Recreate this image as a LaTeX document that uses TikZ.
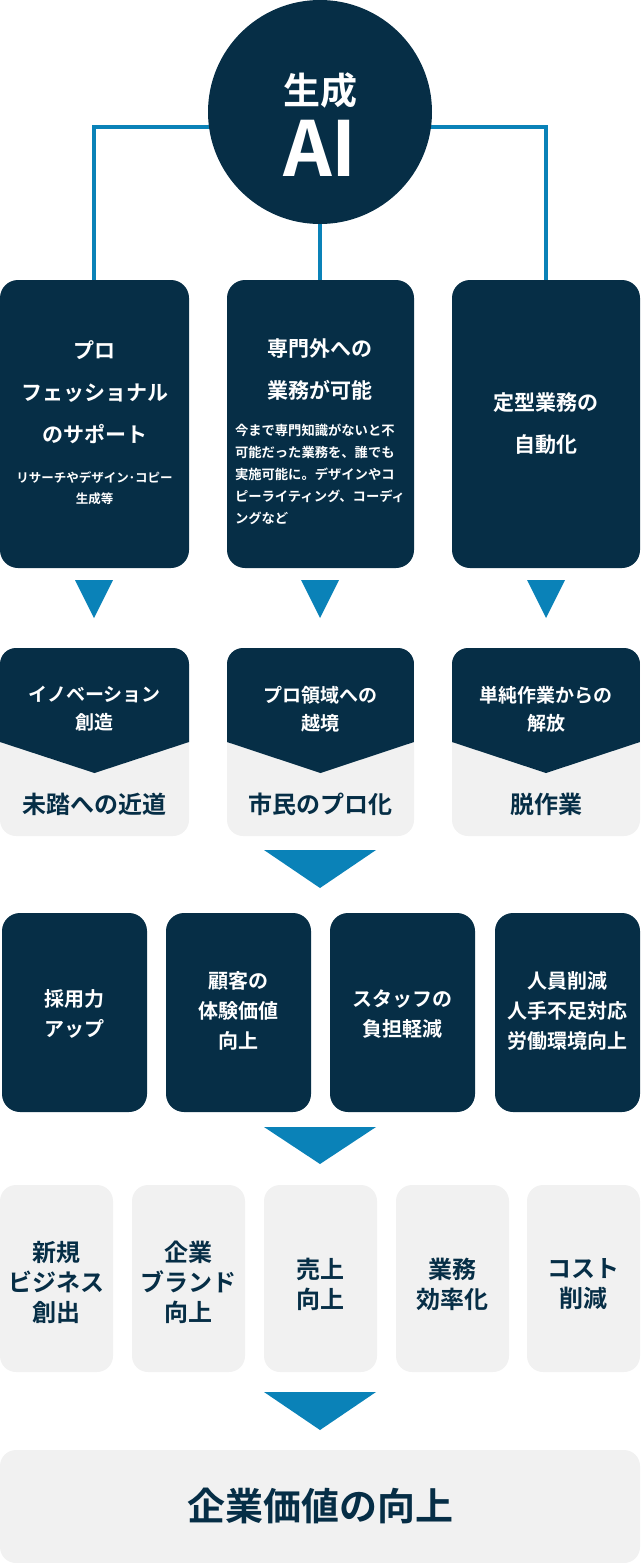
\documentclass[tikz,border=0pt]{standalone}
\usepackage{fontspec}
\setmainfont{Noto Sans CJK JP}[BoldFont={* Bold}]
\newfontfamily\jpb{Noto Sans CJK JP Bold}
\definecolor{navy}{HTML}{062E46}
\definecolor{accent}{HTML}{0A82B8}
\definecolor{lgray}{HTML}{F1F1F1}
\begin{document}
\begin{tikzpicture}[x=1pt,y=-1pt,
  nbox/.style={fill=navy,rounded corners=18pt,draw=none},
  gbox/.style={fill=lgray,rounded corners=16pt,draw=none},
  wt/.style={text=white,font=\jpb,align=center,inner sep=0},
  nt/.style={text=navy,font=\jpb,align=center,inner sep=0},
  tri/.style={fill=accent,draw=none},
  conn/.style={draw=accent,line width=4pt}]
\useasboundingbox (0,0) rectangle (641,1563);
% connectors
\coordinate (cl) at (94,280); \coordinate (cr) at (546,280); \coordinate (cm) at (320,280);
\draw[conn] (cl) -- (94,127) -- (546,127) -- (cr);
\draw[conn] (320,200) -- (cm);
\fill[navy] (320,112) circle (112);
\node[wt,font=\jpb\fontsize{37}{42}\selectfont] (g1) at (320,90) {生成};
\node[wt,font=\jpb\fontsize{76}{80}\selectfont] (g2) at (320,148) {AI};
% top boxes
\fill[nbox] (0,280) rectangle (189,568);
\fill[nbox] (227,280) rectangle (414,568);
\fill[nbox] (452,280) rectangle (640,568);
\node[wt,font=\jpb\fontsize{21}{42}\selectfont] (t1) at (94.5,392) {プロ\\フェッショナル\\のサポート};
\node[wt,font=\jpb\fontsize{12.5}{21}\selectfont] (s1) at (94.5,488) {リサーチやデザイン･コピー\\生成等};
\node[wt,font=\jpb\fontsize{21}{42}\selectfont] (t2) at (320,370) {専門外への\\業務が可能};
\node[wt,align=left,font=\jpb\fontsize{13.3}{22}\selectfont] (s2) at (320,474) {今まで専門知識がないと不\\可能だった業務を、誰でも\\実施可能に。デザインやコ\\ピーライティング、コーディ\\ングなど};
\node[wt,font=\jpb\fontsize{21}{42}\selectfont] (t3) at (546,424) {定型業務の\\自動化};
% triangles
\foreach \c in {94,320,546} \fill[tri] (\c-19,580) -- (\c+19,580) -- (\c,618) -- cycle;
% row 2
\foreach \a/\b in {0/189,227/414,452/640}{
  \fill[gbox] (\a,648) rectangle (\b,836);
  \begin{scope}
  \clip[rounded corners=16pt] (\a,648) rectangle (\b,836);
  \fill[navy] (\a,640) -- (\b,640) -- (\b,742) -- ({(\a+\b)/2},773) -- (\a,742) -- cycle;
  \end{scope}}
\node[wt,font=\jpb\fontsize{19}{28}\selectfont] (r1) at (94.5,709) {イノベーション\\創造};
\node[wt,font=\jpb\fontsize{19}{28}\selectfont] (r2) at (320.5,709) {プロ領域への\\越境};
\node[wt,font=\jpb\fontsize{19}{28}\selectfont] (r3) at (546,709) {単純作業からの\\解放};
\node[nt,font=\jpb\fontsize{24}{28}\selectfont] (b1) at (94.5,804) {未踏への近道};
\node[nt,font=\jpb\fontsize{24}{28}\selectfont] (b2) at (320.5,804) {市民のプロ化};
\node[nt,font=\jpb\fontsize{24}{28}\selectfont] (b3) at (546,804) {脱作業};
\fill[tri] (264,850) -- (376,850) -- (320,888) -- cycle;
% row 3
\fill[nbox] (2,913) rectangle (147,1112);
\fill[nbox] (166,913) rectangle (311,1112);
\fill[nbox] (330,913) rectangle (475,1112);
\fill[nbox] (495,913) rectangle (640,1112);
\node[wt,font=\jpb\fontsize{20}{30}\selectfont] (p1) at (74.5,1014) {採用力\\アップ};
\node[wt,font=\jpb\fontsize{20}{30}\selectfont] (p2) at (238.5,1011) {顧客の\\体験価値\\向上};
\node[wt,font=\jpb\fontsize{20}{30}\selectfont] (p3) at (402.5,1014) {スタッフの\\負担軽減};
\node[wt,font=\jpb\fontsize{20}{30}\selectfont] (p4) at (567.5,1011) {人員削減\\人手不足対応\\労働環境向上};
\fill[tri] (264,1127) -- (376,1127) -- (320,1164) -- cycle;
% row 4
\foreach \a in {0,132,264,396,527} \fill[gbox] (\a,1185) rectangle (\a+113,1372);
\node[nt,font=\jpb\fontsize{24}{30}\selectfont] (q1) at (56.5,1282) {新規\\ビジネス\\創出};
\node[nt,font=\jpb\fontsize{24}{30}\selectfont] (q2) at (188.5,1282) {企業\\ブランド\\向上};
\node[nt,font=\jpb\fontsize{24}{30}\selectfont] (q3) at (320.5,1284) {売上\\向上};
\node[nt,font=\jpb\fontsize{24}{30}\selectfont] (q4) at (452.5,1284) {業務\\効率化};
\node[nt,font=\jpb\fontsize{24}{30}\selectfont] (q5) at (583.5,1284) {コスト\\削減};
\fill[tri] (264,1392) -- (376,1392) -- (320,1430) -- cycle;
\fill[gbox] (0,1450) rectangle (640,1563);
\node[nt,font=\jpb\fontsize{38}{42}\selectfont] (fin) at (320,1506) {企業価値の向上};
\end{tikzpicture}
\end{document}
